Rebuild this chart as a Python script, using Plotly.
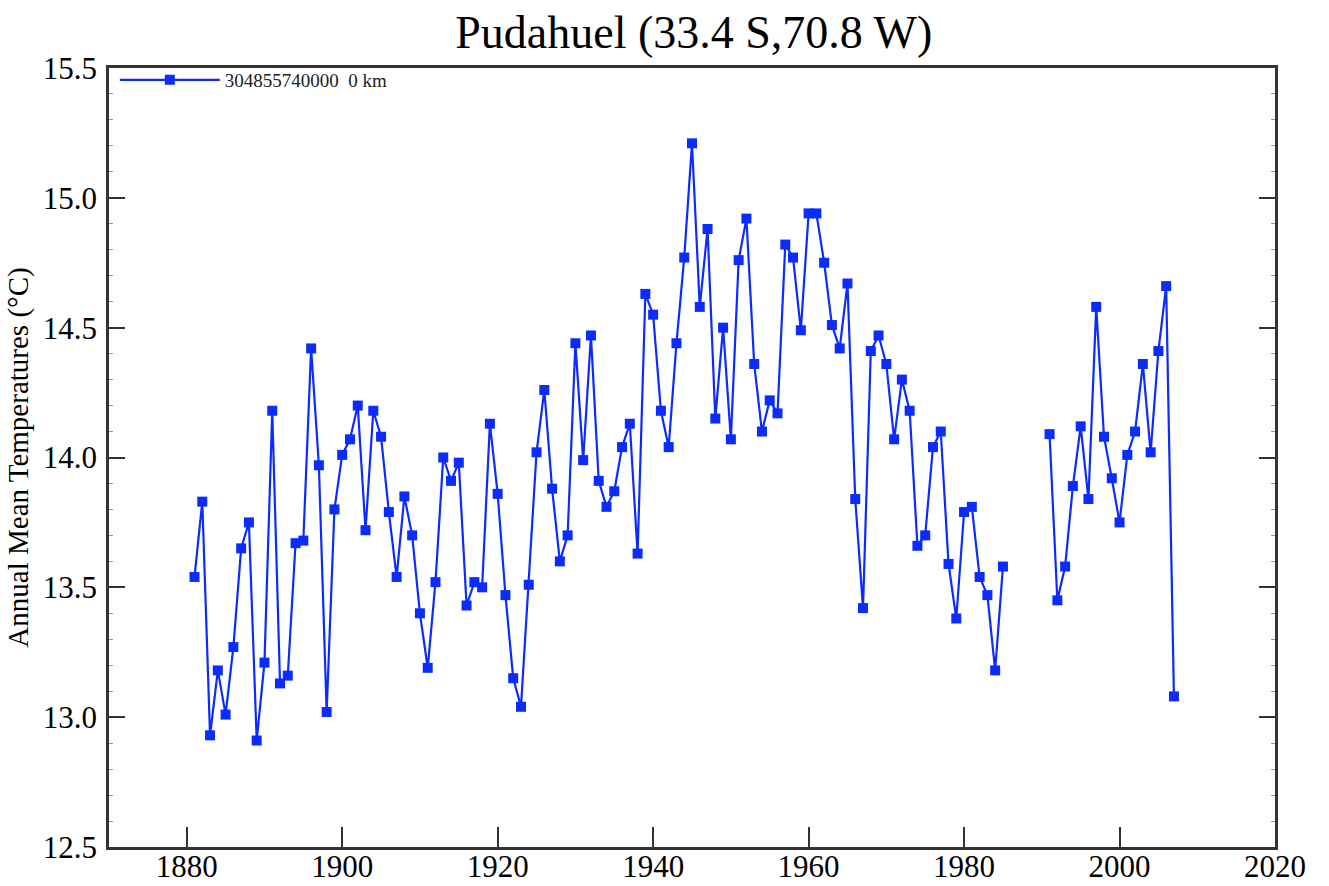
import plotly.graph_objects as go

years = list(range(1881, 2008))
temps = [
    13.54, 13.83, 12.93, 13.18, 13.01, 13.27, 13.65, 13.75, 12.91, 13.21,  # 1881-1890
    14.18, 13.13, 13.16, 13.67, 13.68, 14.42, 13.97, 13.02, 13.80, 14.01,  # 1891-1900
    14.07, 14.20, 13.72, 14.18, 14.08, 13.79, 13.54, 13.85, 13.70, 13.40,  # 1901-1910
    13.19, 13.52, 14.00, 13.91, 13.98, 13.43, 13.52, 13.50, 14.13, 13.86,  # 1911-1920
    13.47, 13.15, 13.04, 13.51, 14.02, 14.26, 13.88, 13.60, 13.70, 14.44,  # 1921-1930
    13.99, 14.47, 13.91, 13.81, 13.87, 14.04, 14.13, 13.63, 14.63, 14.55,  # 1931-1940
    14.18, 14.04, 14.44, 14.77, 15.21, 14.58, 14.88, 14.15, 14.50, 14.07,  # 1941-1950
    14.76, 14.92, 14.36, 14.10, 14.22, 14.17, 14.82, 14.77, 14.49, 14.94,  # 1951-1960
    14.94, 14.75, 14.51, 14.42, 14.67, 13.84, 13.42, 14.41, 14.47, 14.36,  # 1961-1970
    14.07, 14.30, 14.18, 13.66, 13.70, 14.04, 14.10, 13.59, 13.38, 13.79,  # 1971-1980
    13.81, 13.54, 13.47, 13.18, 13.58, None, None, None, None, None,       # 1981-1990
    14.09, 13.45, 13.58, 13.89, 14.12, 13.84, 14.58, 14.08, 13.92, 13.75,  # 1991-2000
    14.01, 14.10, 14.36, 14.02, 14.41, 14.66, 13.08,                       # 2001-2007
]

x_ticks = [1880, 1900, 1920, 1940, 1960, 1980, 2000, 2020]
y_ticks = [12.5, 13.0, 13.5, 14.0, 14.5, 15.0, 15.5]
y_tick_labels = ["12.5", "13.0", "13.5", "14.0", "14.5", "15.0", "15.5"]

title_text = "Pudahuel (33.4 S,70.8 W)"
y_title = "Annual Mean Temperatures (°C)"
series_name = "304855740000&nbsp;&nbsp;0 km"

BLUE = "#0b2bff"
SERIF = "Liberation Serif, Times New Roman, serif"
AXIS = "#333333"

fig = go.Figure()
fig.add_trace(go.Scatter(
    x=years, y=temps, mode="lines+markers", name=series_name,
    line=dict(color=BLUE, width=2.2),
    marker=dict(symbol="square", size=10, color=BLUE),
    connectgaps=False,
))

fig.update_layout(
    width=1329, height=886,
    paper_bgcolor="white", plot_bgcolor="white",
    margin=dict(l=109, r=54, t=68, b=39, autoexpand=False),
    title=dict(text=title_text, x=0.522, xanchor="center", y=0.964, yanchor="middle",
               font=dict(family=SERIF, size=46, color="black")),
    showlegend=True,
    legend=dict(x=0.005, y=1.009, xanchor="left", yanchor="top",
                bgcolor="rgba(0,0,0,0)", borderwidth=0, itemwidth=100,
                font=dict(family=SERIF, size=19, color="#222222"),
                tracegroupgap=0),
    font=dict(family=SERIF, color="black"),
)

fig.update_xaxes(
    range=[1870, 2020], tickvals=x_ticks, ticktext=[str(v) for v in x_ticks],
    showgrid=False, zeroline=False,
    showline=True, linecolor=AXIS, linewidth=2.5, mirror=True,
    ticks="inside", ticklen=20, tickwidth=2, tickcolor=AXIS,
    tickfont=dict(family=SERIF, size=31, color="black"),
    ticklabelstandoff=-10,
)
fig.update_yaxes(
    range=[12.5, 15.5], tickvals=y_ticks, ticktext=y_tick_labels,
    showgrid=False, zeroline=False,
    showline=True, linecolor=AXIS, linewidth=2.5, mirror="ticks",
    ticks="inside", ticklen=16, tickwidth=2, tickcolor=AXIS,
    tickfont=dict(family=SERIF, size=31, color="black"),
    ticklabelstandoff=3,
    minor=dict(ticks="inside", ticklen=4, tickwidth=1, tickcolor="#999999", dtick=0.1),
    title=dict(text=y_title, font=dict(family=SERIF, size=29, color="black"), standoff=6),
)

fig.write_html(
    "out.html",
    config={"displayModeBar": False},
    post_script="document.body.style.margin='0';document.body.style.overflow='hidden';",
)
